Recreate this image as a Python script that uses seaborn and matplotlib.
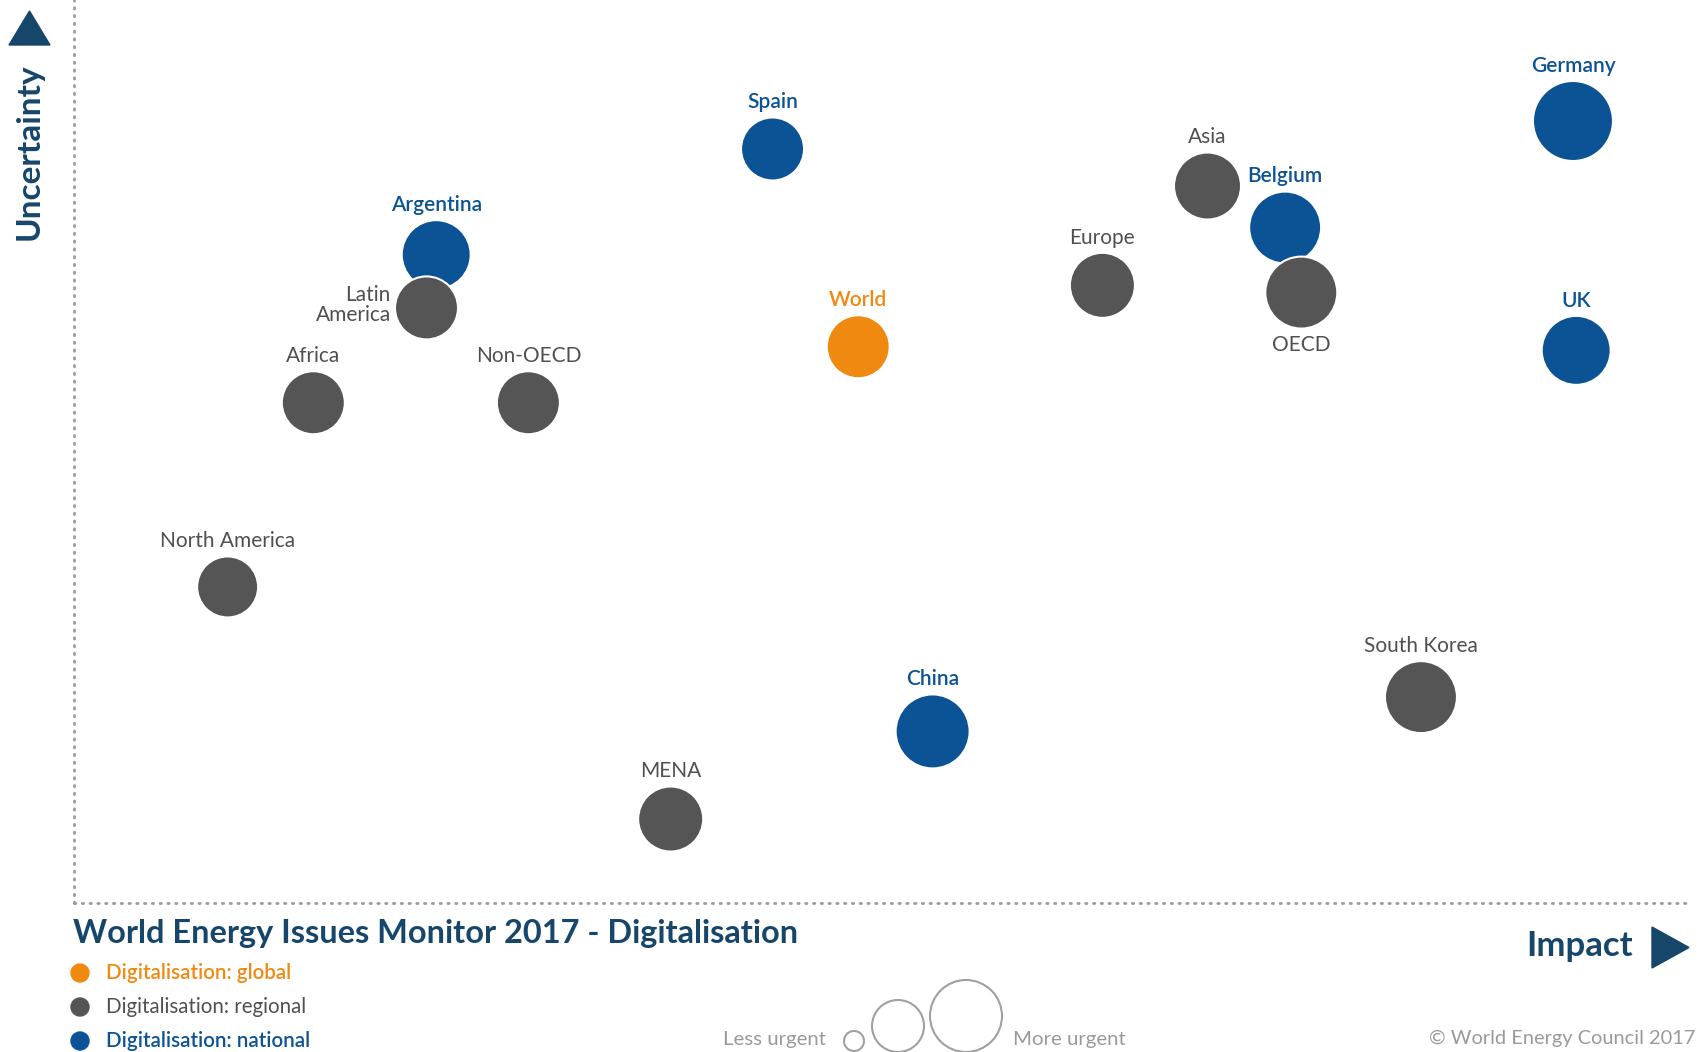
import matplotlib.pyplot as plt
import seaborn as sns
import pandas as pd
import numpy as np
from matplotlib.patches import Ellipse, Polygon

# Issue positions (impact / uncertainty on a 0-100 scale)
issues = ['Germany', 'Spain', 'Asia', 'Belgium', 'Argentina', 'Europe', 'OECD',
          'Latin\nAmerica', 'World', 'UK', 'Africa', 'Non-OECD', 'North America',
          'South Korea', 'China', 'MENA']
scope = ['national', 'national', 'regional', 'national', 'national', 'regional', 'regional',
         'regional', 'global', 'national', 'regional', 'regional', 'regional',
         'regional', 'national', 'regional']
impact = [92.7, 43.2, 70.1, 74.9, 22.4, 63.6, 75.9, 21.8, 48.5, 92.9, 14.8, 28.1, 9.5, 83.3, 53.1, 36.9]
uncertainty = [86.6, 83.5, 79.4, 74.8, 71.8, 68.4, 67.6, 65.9, 61.6, 61.2, 55.4, 55.4, 35.0, 22.8, 19.0, 9.3]
urgency = [6.4, 3.97, 4.49, 5.18, 4.76, 4.23, 5.18, 3.97, 3.97, 4.76, 3.97, 3.97, 3.72, 5.18, 5.48, 4.23]
label_pos = ['above', 'above', 'above', 'above', 'above', 'above', 'below',
             'left', 'above', 'above', 'above', 'above', 'above', 'above', 'above', 'above']

legend_labels = ['Digitalisation: global', 'Digitalisation: regional', 'Digitalisation: national']
colors = {'global': '#f0890f', 'regional': '#555555', 'national': '#0b5394'}
label_colors = {'global': '#f0890f', 'regional': '#505050', 'national': '#0b5394'}
navy = '#17466b'

data = pd.DataFrame({'Issue': issues, 'Scope': scope, 'Impact': impact,
                     'Uncertainty': uncertainty, 'Urgency': urgency})

sns.set_theme(style='white')
plt.rcParams['font.family'] = ['Lato', 'DejaVu Sans']

W, H = 1700, 1052
fig = plt.figure(figsize=(17, 10.52), dpi=100)
ax = fig.add_axes([74 / W, 149 / H, 1617 / W, 903 / H])

area_per_unit = 518.4
sns.scatterplot(data=data, x='Impact', y='Uncertainty', hue='Scope', palette=colors,
                size='Urgency', sizes=(3 * area_per_unit, 7 * area_per_unit), size_norm=(3, 7),
                edgecolor='white', linewidth=1.5, legend=False, ax=ax, zorder=3)
ax.set_xlim(0, 100)
ax.set_ylim(0, 100)
ax.set_xticks([])
ax.set_yticks([])
ax.set_xlabel('')
ax.set_ylabel('')
for side in ['top', 'right']:
    ax.spines[side].set_visible(False)
for side in ['left', 'bottom']:
    ax.spines[side].set_color('#9a9a9a')
    ax.spines[side].set_linewidth(2)
    ax.spines[side].set_linestyle((0, (0.5, 2.3)))
    ax.spines[side].set_capstyle('round')

# bubble labels
for name, sc, x, y, u, pos in zip(issues, scope, impact, uncertainty, urgency, label_pos):
    r = np.sqrt(u * area_per_unit) / 2
    if pos == 'above':
        off, ha = (0, r + 11), 'center'
    elif pos == 'below':
        off, ha = (0, -(r + 12)), 'center'
    else:
        off, ha = (-(r + 3), 2), 'right'
    ax.annotate(name, (x, y), xytext=off, textcoords='offset points', ha=ha, va='center',
                fontsize=15, color=label_colors[sc], linespacing=1.0,
                fontweight='semibold' if sc != 'regional' else 'normal', zorder=4)


def fx(px):
    return px / W


def fy(py):
    return 1 - py / H


# axis titles with arrows
fig.text(fx(29), fy(152), 'Uncertainty', rotation=90, ha='center', va='center',
         fontsize=24, fontweight='bold', color=navy)
fig.add_artist(Polygon([(fx(9), fy(45)), (fx(50), fy(45)), (fx(29.5), fy(11))],
                       closed=True, color=navy, transform=fig.transFigure))
fig.text(fx(1633), fy(946), 'Impact', ha='right', va='center',
         fontsize=25, fontweight='bold', color=navy)
fig.add_artist(Polygon([(fx(1652), fy(927)), (fx(1652), fy(968)), (fx(1689), fy(947.5))],
                       closed=True, color=navy, transform=fig.transFigure))

# title
fig.text(fx(73), fy(933), 'World Energy Issues Monitor 2017 - Digitalisation', ha='left', va='center',
         fontsize=23.4, fontweight='bold', color=navy)

# colour legend
for i, (lab, key) in enumerate(zip(legend_labels, ['global', 'regional', 'national'])):
    yy = 973 + i * 34
    fig.add_artist(Ellipse((fx(80), fy(yy)), 18 / W, 18 / H, color=colors[key], transform=fig.transFigure))
    fig.text(fx(106), fy(yy), lab, ha='left', va='center', fontsize=14.8,
             color=label_colors[key], fontweight='semibold' if key != 'regional' else 'normal')

# size legend
fig.text(fx(826), fy(1039), 'Less urgent', ha='right', va='center', fontsize=14.7, color='#9a9a9a')
fig.text(fx(1013), fy(1039), 'More urgent', ha='left', va='center', fontsize=14.7, color='#9a9a9a')
for cx, cy, rr in [(854, 1041, 10), (898, 1026, 26), (966, 1016, 36)]:
    fig.add_artist(Ellipse((fx(cx), fy(cy)), 2 * rr / W, 2 * rr / H, fill=False,
                           edgecolor='#a0a0a0', linewidth=1.5, transform=fig.transFigure))

fig.text(fx(1695), fy(1038), '\u00a9 World Energy Council 2017', ha='right', va='center',
         fontsize=14.4, color='#9a9a9a')

fig.savefig('out.png', dpi=100)
